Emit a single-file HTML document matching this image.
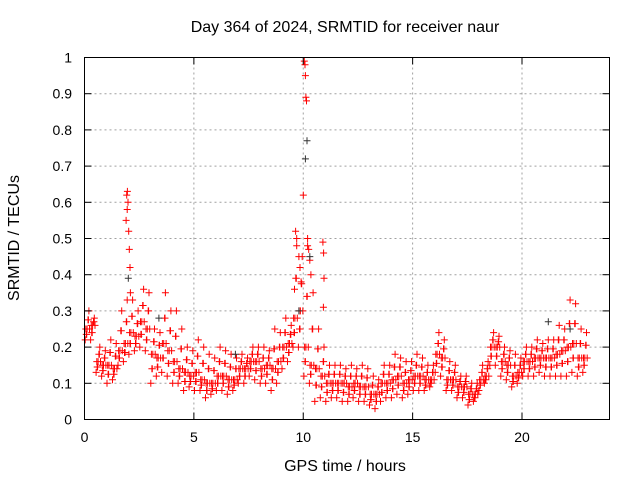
<!DOCTYPE html>
<html><head><meta charset="utf-8"><style>
body{margin:0;background:#fff}
svg{display:block;font-family:"Liberation Sans",sans-serif}
</style></head><body>
<svg id="chart" width="640" height="480" xmlns="http://www.w3.org/2000/svg">
<rect width="640" height="480" fill="#fff"/>
<g id="grid"></g>
<g id="marks"></g>
<rect x="84.5" y="57.5" width="525" height="362" fill="none" stroke="#000" stroke-width="1"/>
<g id="axes"></g>
<text x="345" y="32" font-size="16" text-anchor="middle">Day 364 of 2024, SRMTID for receiver naur</text>
<text x="345" y="471" font-size="16" text-anchor="middle">GPS time / hours</text>
<text x="0" y="0" font-size="16" text-anchor="middle" transform="translate(19,238) rotate(-90)">SRMTID / TECUs</text>
</svg>
<script>
const xTicks=[0,5,10,15,20];
const yTicks=[0,0.1,0.2,0.3,0.4,0.5,0.6,0.7,0.8,0.9,1];
const yTickLabels=["0","0.1","0.2","0.3","0.4","0.5","0.6","0.7","0.8","0.9","1"];
const binHours=0.25;
const lo=[.22,.22,.13,.12,.10,.11,.15,.16,.18,.19,.20,.19,.10,.12,.13,.12,.10,.10,.08,.09,.08,.08,.06,.07,.08,.08,.07,.08,.10,.10,.12,.11,.10,.10,.08,.10,.14,.16,.20,.20,.12,.10,.05,.06,.05,.06,.06,.05,.05,.06,.05,.05,.04,.03,.05,.06,.06,.07,.06,.07,.08,.08,.08,.09,.13,.12,.08,.08,.06,.06,.04,.05,.08,.10,.15,.15,.12,.11,.09,.10,.12,.12,.12,.13,.12,.12,.12,.12,.12,.13,.12,.13];
const mid=[.25,.26,.16,.15,.15,.14,.19,.21,.24,.23,.27,.25,.18,.17,.21,.19,.16,.14,.13,.12,.13,.11,.10,.10,.12,.12,.11,.11,.14,.14,.16,.16,.14,.15,.14,.16,.20,.21,.28,.30,.20,.15,.14,.12,.10,.10,.10,.10,.09,.10,.09,.09,.07,.07,.10,.10,.11,.12,.10,.11,.12,.12,.11,.11,.18,.17,.11,.11,.09,.09,.07,.07,.11,.12,.20,.20,.16,.15,.12,.13,.16,.16,.17,.17,.17,.17,.18,.19,.20,.21,.17,.17];
const hi=[.30,.28,.20,.19,.22,.21,.30,.33,.33,.30,.36,.35,.25,.24,.35,.30,.30,.25,.20,.19,.22,.20,.18,.17,.20,.19,.18,.17,.18,.17,.20,.20,.20,.19,.25,.24,.28,.26,.50,.45,.48,.35,.25,.20,.15,.15,.15,.14,.15,.14,.15,.14,.12,.11,.15,.15,.18,.17,.16,.16,.18,.17,.15,.15,.24,.22,.16,.15,.12,.12,.10,.10,.15,.16,.24,.23,.20,.19,.18,.17,.20,.20,.22,.21,.22,.22,.26,.25,.33,.32,.25,.24];
const spikeT=[1.9,1.93,1.96,1.99,2.02,2.05,2.08,2.1,1.95,9.6,9.65,9.7,9.8,9.85,9.9,10.05,10.08,10.1,10.12,10.15,10.0,10.2,10.25,10.3,10.35,10.9,10.93,10.95,10.92];
const spikeV=[.55,.62,.63,.6,.52,.47,.42,.35,.58,.36,.52,.48,.45,.42,.38,.99,.98,.95,.89,.88,.62,.5,.47,.44,.4,.49,.46,.39,.31];
const blackT=[10.17,10.1,2.0,10.3,9.8,3.4,21.2,22.2,6.9];
const blackV=[.77,.72,.39,.45,.3,.28,.27,.25,.18];
const X=h=>84.5+h*525/24, Y=v=>419.5-v*362;
const NS="http://www.w3.org/2000/svg";
const grid=document.getElementById('grid'),axes=document.getElementById('axes'),marks=document.getElementById('marks');
function line(g,x1,y1,x2,y2,st,dash){const l=document.createElementNS(NS,'line');l.setAttribute('x1',x1);l.setAttribute('y1',y1);l.setAttribute('x2',x2);l.setAttribute('y2',y2);l.setAttribute('stroke',st);if(dash)l.setAttribute('stroke-dasharray',dash);g.appendChild(l);return l;}
function txt(g,x,y,s,anchor){const t=document.createElementNS(NS,'text');t.setAttribute('x',x);t.setAttribute('y',y);t.setAttribute('font-size','14');t.setAttribute('text-anchor',anchor);t.textContent=s;g.appendChild(t);return t;}
yTicks.forEach((v,i)=>{const y=Y(v);
 if(i>0&&i<yTicks.length-1){const gl=line(grid,84.5,y,609.5,y,'#a0a0a0','2,3');
 
 }
 line(axes,84.5,y,91.5,y,'#000');line(axes,609.5,y,602.5,y,'#000');
 const t=txt(axes,72,y+5,yTickLabels[i],'end');
 
 });
xTicks.forEach(h=>{const x=X(h);
 if(h>0){const gl=line(grid,x,57.5,x,419.5,'#a0a0a0','2,3');
 
 }
 line(axes,x,419.5,x,412.5,'#000');line(axes,x,57.5,x,64.5,'#000');
 const t=txt(axes,x,442,String(h),'middle');
 
 });
let d="";
function plus(h,v){const x=X(h),y=Y(v);d+=`M${(x-3.5).toFixed(1)} ${y.toFixed(1)}h7M${x.toFixed(1)} ${(y-3.5).toFixed(1)}v7`;}
lo.forEach((v,i)=>{const t=i*binHours;
 plus(t+0.03,v);plus(t+0.12,mid[i]);plus(t+0.2,hi[i]);
 plus(t+0.08,(v+mid[i])/2);plus(t+0.16,(mid[i]+hi[i])/2);plus(t+0.23,mid[i]);
 plus(t+0.06,mid[i]);plus(t+0.1,(v+mid[i])/2);plus(t+0.18,(mid[i]+hi[i])/2);});
spikeT.forEach((t,i)=>plus(t,spikeV[i]));
const p=document.createElementNS(NS,'path');p.setAttribute('d',d);p.setAttribute('stroke','#f00');p.setAttribute('fill','none');p.setAttribute('stroke-width','1');


marks.appendChild(p);
d="";blackT.forEach((t,i)=>plus(t,blackV[i]));
const pb=document.createElementNS(NS,'path');pb.setAttribute('d',d);pb.setAttribute('stroke','#333');pb.setAttribute('fill','none');


marks.appendChild(pb);
</script>
</body></html>
